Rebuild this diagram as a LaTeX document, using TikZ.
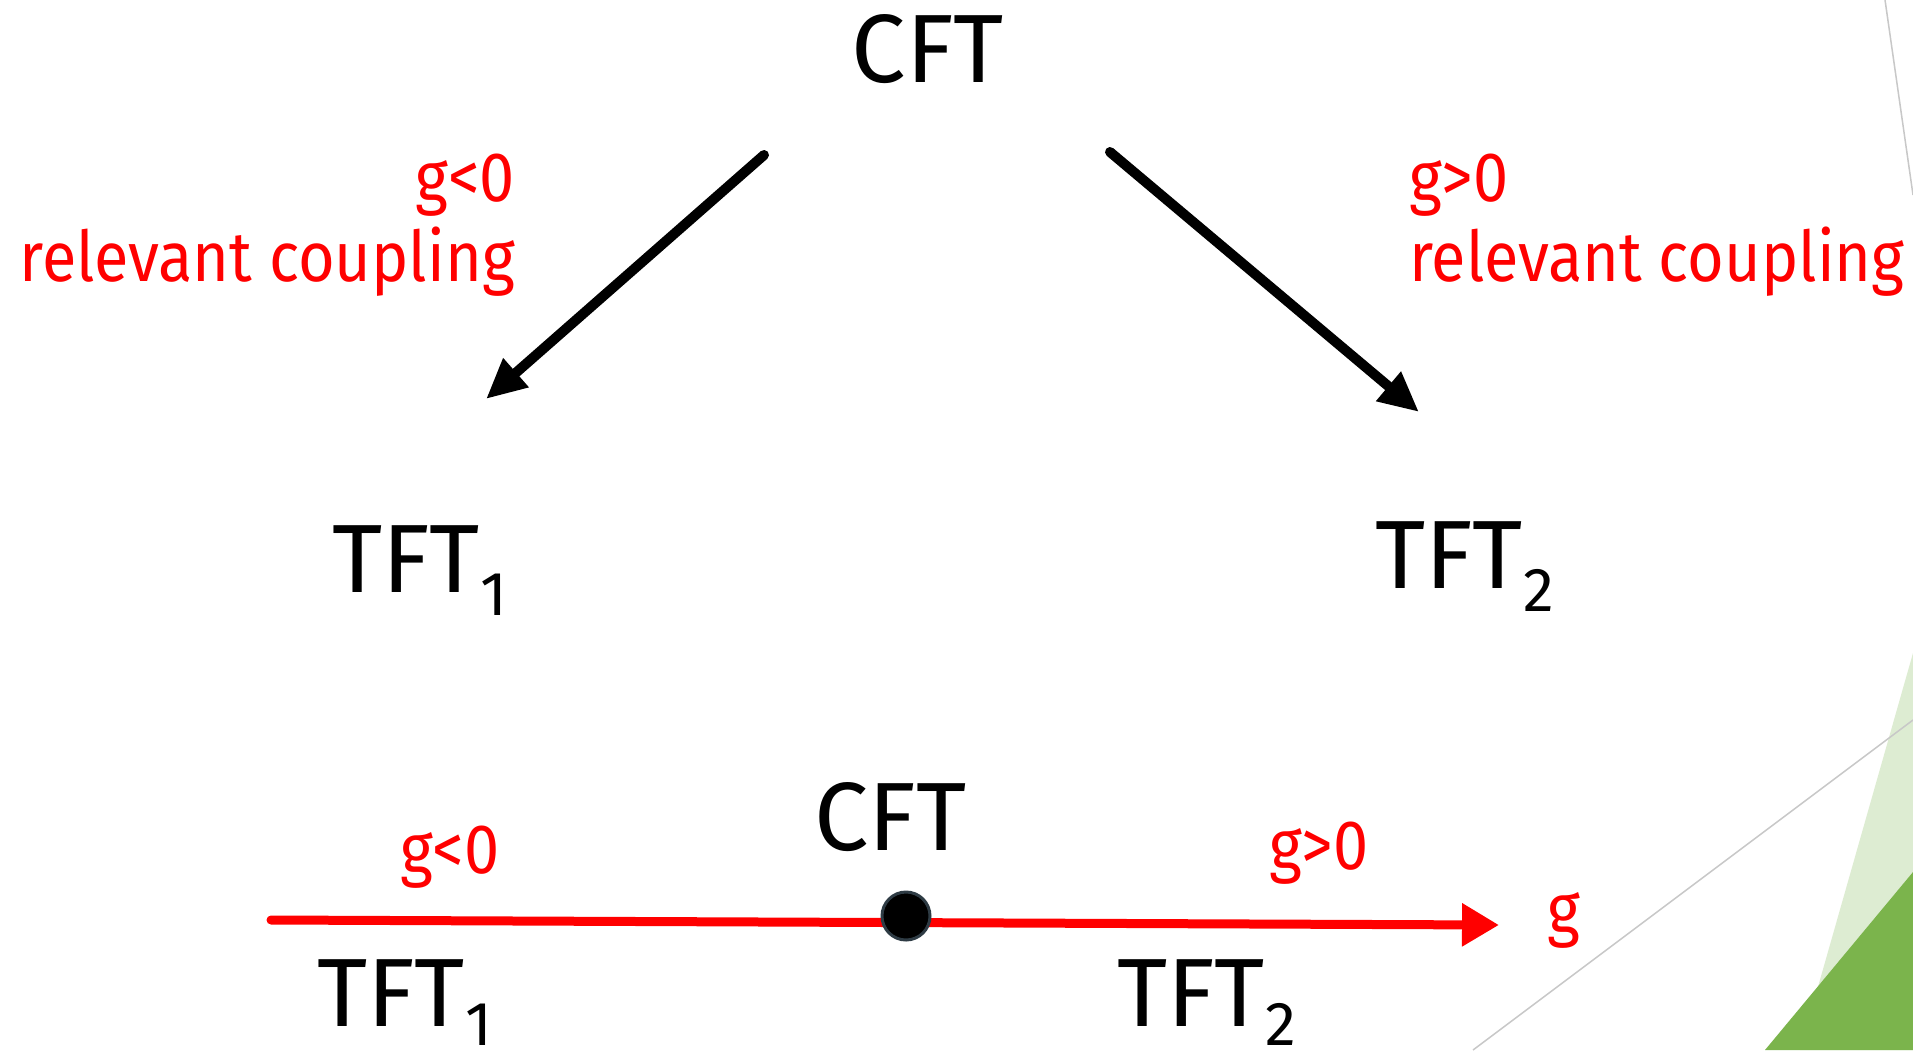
\documentclass[tikz,border=0pt]{standalone}
\usepackage{fontspec}
\setmainfont{Fira Sans}
\newfontfamily\labfont[FakeStretch=0.9]{Fira Sans}
\usetikzlibrary{arrows.meta}
\definecolor{lgreen}{HTML}{DDEBC5}
\definecolor{dgreen}{HTML}{7BB44C}
\definecolor{lgray}{HTML}{C8C8C8}
\definecolor{dotrim}{HTML}{2E3B44}
\newcommand{\subsz}[2][23pt]{\raisebox{-#1}{\fontsize{62}{62}\selectfont #2}}
\begin{document}
\begin{tikzpicture}[x=1pt,y=-1pt,
  big/.style={font=\fontsize{97}{100}\selectfont, inner sep=0pt, text=black},
  lab/.style={font=\labfont\fontsize{70}{80}\selectfont, inner sep=0pt, text=red},
  flow/.style={line width=10pt, line cap=round, -{Triangle[length=40pt,width=36pt]}},
  axis/.style={red, line width=9pt, line cap=round, -{Triangle[length=37pt,width=41pt]}},
  deco/.style={lgray, line width=1.5pt}]
\useasboundingbox (0,0) rectangle (1913,1050);
\fill[white] (0,0) rectangle (1913,1050);
% background decorations
\draw[deco] (1885,0) -- (1913,195);
\fill[dgreen] (1913,872) -- (1765,1050) -- (1913,1050) -- cycle;
\fill[dgreen, opacity=0.25] (1913,653) -- (1800,1050) -- (1913,1050) -- cycle;
\draw[deco] (1913,720) -- (1473,1050);
% top diagram
\node[big, anchor=base] (cft) at (928,82) {CFT};
\node[big, anchor=base west] (tft1) at (332,592) {TFT\subsz{1}};
\node[big, anchor=base west] (tft2) at (1375,588) {TFT\subsz{2}};
\node[lab, anchor=base east] (lneg) at (515,201) {g<0};
\node[lab, anchor=base east] (lnegc) at (515,281) {relevant coupling};
\node[lab, anchor=base west] (lpos) at (1409,201) {g>0};
\node[lab, anchor=base west] (lposc) at (1409,281) {relevant coupling};
\coordinate (a1s) at (764,155);
\coordinate (a1e) at (486,399);
\coordinate (a2s) at (1110,152);
\coordinate (a2e) at (1419,412);
\draw[flow] (a1s) -- (a1e);
\draw[flow] (a2s) -- (a2e);
% bottom axis
\coordinate (ax0) at (271,920);
\coordinate (ax1) at (1499,925);
\draw[axis] (ax0) -- (ax1);
\node[circle, fill=black, draw=dotrim, line width=3pt, minimum size=48pt, inner sep=0pt] (dot) at (906,916) {};
\node[big, anchor=base west] (cftb) at (814,850) {CFT};
\node[lab, anchor=base west] (bneg) at (400,873) {g<0};
\node[lab, anchor=base west] (bpos) at (1269,869) {g>0};
\node[lab, anchor=base west] (gax) at (1547,933) {g};
\node[big, anchor=base west] (tft1b) at (317,1026) {TFT\subsz[19pt]{1}};
\node[big, anchor=base west] (tft2b) at (1117,1026) {TFT\subsz[19pt]{2}};
\end{tikzpicture}
\end{document}
